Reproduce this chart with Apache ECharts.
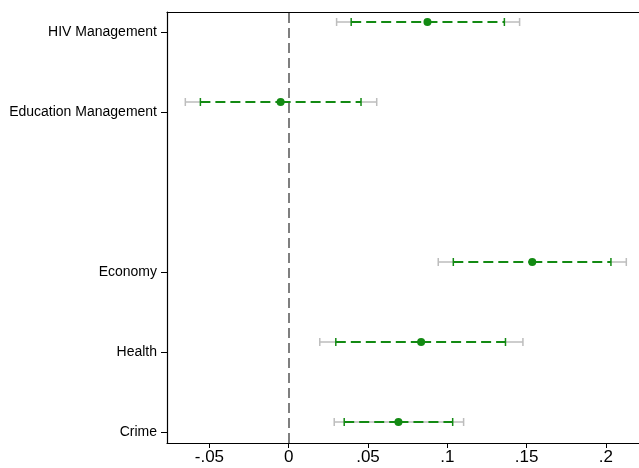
<!DOCTYPE html>
<html>
<head>
<meta charset="utf-8">
<script src="https://cdn.jsdelivr.net/npm/echarts@6/dist/echarts.min.js"></script>
<style>
html,body{margin:0;padding:0;background:#fff;}
#chart{width:639px;height:468px;}
</style>
</head>
<body>
<div id="chart"></div>
<script>
// ---- data ----
var categories = ['HIV Management', 'Education Management', 'Economy', 'Health', 'Crime'];
var rowPositions = [6, 5, 3, 2, 1];
var labelPositions = [5.87, 4.87, 2.87, 1.87, 0.87];
var estimate = [0.0875, -0.0051, 0.1536, 0.0835, 0.0692];
var innerLow = [0.0394, -0.0557, 0.1038, 0.0297, 0.0350];
var innerHigh = [0.1360, 0.0456, 0.2032, 0.1367, 0.1034];
var outerLow = [0.0302, -0.0652, 0.0943, 0.0196, 0.0287];
var outerHigh = [0.1456, 0.0555, 0.2129, 0.1477, 0.1103];
var xTickValues = [-0.05, 0, 0.05, 0.1, 0.15, 0.2];
var xTickLabels = ['-.05', '0', '.05', '.1', '.15', '.2'];
var referenceValue = 0;

var GREEN = '#138a13';
var GRAY = '#bdbdbd';

var seriesData = categories.map(function (c, i) {
  return [rowPositions[i], estimate[i], innerLow[i], innerHigh[i], outerLow[i], outerHigh[i], i];
});

function renderItem(params, api) {
  var y = api.value(0);
  var est = api.value(1), il = api.value(2), ih = api.value(3), ol = api.value(4), oh = api.value(5);
  var idx = api.value(6);
  var pEst = api.coord([est, y]);
  var pIl = api.coord([il, y]);
  var pIh = api.coord([ih, y]);
  var pOl = api.coord([ol, y]);
  var pOh = api.coord([oh, y]);
  var cy = pEst[1];
  var cap = 4;
  var children = [];
  var grayStyle = { stroke: GRAY, lineWidth: 1.5 };
  if (categories[idx] === 'Crime') {
    children.push({ type: 'line', shape: { x1: pOl[0], y1: cy, x2: pOh[0], y2: cy }, style: grayStyle });
  } else {
    children.push({ type: 'line', shape: { x1: pOl[0], y1: cy, x2: pIl[0], y2: cy }, style: grayStyle });
    children.push({ type: 'line', shape: { x1: pIh[0], y1: cy, x2: pOh[0], y2: cy }, style: grayStyle });
  }
  children.push({ type: 'line', shape: { x1: pOl[0], y1: cy - cap, x2: pOl[0], y2: cy + cap }, style: grayStyle });
  children.push({ type: 'line', shape: { x1: pOh[0], y1: cy - cap, x2: pOh[0], y2: cy + cap }, style: grayStyle });
  var greenStyle = { stroke: GREEN, lineWidth: 2, lineDash: [10, 5] };
  children.push({ type: 'line', shape: { x1: pIl[0], y1: cy, x2: pEst[0], y2: cy }, style: greenStyle });
  children.push({ type: 'line', shape: { x1: pEst[0], y1: cy, x2: pIh[0], y2: cy }, style: greenStyle });
  var capStyle = { stroke: GREEN, lineWidth: 1.5 };
  children.push({ type: 'line', shape: { x1: pIl[0], y1: cy - cap, x2: pIl[0], y2: cy + cap }, style: capStyle });
  children.push({ type: 'line', shape: { x1: pIh[0], y1: cy - cap, x2: pIh[0], y2: cy + cap }, style: capStyle });
  children.push({ type: 'circle', shape: { cx: pEst[0], cy: cy, r: 4 }, style: { fill: GREEN } });
  return { type: 'group', children: children };
}

var xMin = -0.07675, xMax = 0.2209;

var chart = echarts.init(document.getElementById('chart'), null, { renderer: 'canvas' });
chart.setOption({
  animation: false,
  backgroundColor: '#fff',
  textStyle: { fontFamily: 'Liberation Sans, Arial, sans-serif' },
  grid: { left: 167, top: 12, right: 0, bottom: 25, show: false, containLabel: false },
  xAxis: [{
    type: 'value',
    min: xMin,
    max: xMax,
    position: 'bottom',
    axisLine: { show: true, onZero: false, lineStyle: { color: '#000', width: 1.2 } },
    axisTick: { show: true, length: 5, lineStyle: { color: '#000' }, customValues: xTickValues },
    axisLabel: {
      color: '#000', fontSize: 17, margin: 6,
      customValues: xTickValues,
      formatter: function (v) {
        for (var i = 0; i < xTickValues.length; i++) {
          if (Math.abs(xTickValues[i] - v) < 1e-9) return xTickLabels[i];
        }
        return '';
      }
    },
    splitLine: { show: false }
  }, {
    type: 'value',
    min: xMin,
    max: xMax,
    position: 'top',
    axisLine: { show: true, onZero: false, lineStyle: { color: '#000', width: 1.2 } },
    axisTick: { show: false },
    axisLabel: { show: false },
    splitLine: { show: false }
  }],
  yAxis: {
    type: 'value',
    min: 0.7375,
    max: 6.125,
    axisLine: { show: true, onZero: false, lineStyle: { color: '#000', width: 1.2 } },
    axisTick: { show: true, length: 6, lineStyle: { color: '#000' }, customValues: labelPositions },
    axisLabel: {
      color: '#000', fontSize: 14, margin: 10,
      customValues: labelPositions,
      formatter: function (v) {
        for (var i = 0; i < labelPositions.length; i++) {
          if (Math.abs(labelPositions[i] - v) < 1e-6) return categories[i];
        }
        return '';
      }
    },
    splitLine: { show: false }
  },
  series: [
    {
      type: 'line',
      data: [],
      markLine: {
        silent: true,
        symbol: 'none',
        label: { show: false },
        lineStyle: { color: '#7f7f7f', width: 2, type: [10, 5] },
        data: [{ xAxis: referenceValue }]
      }
    },
    {
      type: 'custom',
      renderItem: renderItem,
      data: seriesData,
      encode: { x: [1, 2, 3, 4, 5], y: 0 },
      clip: false
    }
  ]
});
</script>
</body>
</html>
